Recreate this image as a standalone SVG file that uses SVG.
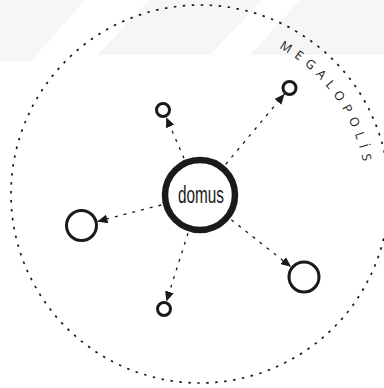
<svg xmlns="http://www.w3.org/2000/svg" width="384" height="388" viewBox="0 0 384 388">
  <style>
    .wm { fill: #f6f6f6; }
    .ring { fill: none; stroke: #1a1a1a; }
    .conn { fill: none; stroke: #1a1a1a; stroke-width: 1.3; stroke-dasharray: 3 6; marker-end: url(#arrow); }
    .label { font-family: "Open Sans", "Liberation Sans", sans-serif; fill: #1a1a1a; }
  </style>
  <defs>
    <marker id="arrow" markerUnits="userSpaceOnUse" viewBox="0 0 10 9" markerWidth="10" markerHeight="9" refX="10" refY="4.5" orient="auto">
      <path d="M0,0 L10,4.5 L0,9 z" fill="#1a1a1a"/>
    </marker>
    <path id="arcText" d="M275.4,46.1 A166,166 0 0 1 365.4,208.5"/>
  </defs>
  <rect width="384" height="388" fill="#ffffff"/>
  <g id="watermark">
    <polygon class="wm" points="0,0 85,0 30,62 0,62"/>
    <polygon class="wm" points="97,55 150,0 262,0 210,55"/>
    <polygon class="wm" points="250,55 300,0 384,0 384,55"/>
  </g>
  <g id="megalopolis">
    <circle cx="200" cy="194" r="189" fill="none" stroke="#1a1a1a" stroke-width="1.7" stroke-dasharray="2.5 6.5"/>
    <text class="label" font-size="12.5" letter-spacing="6"><textPath href="#arcText" startOffset="4">MEGALOPOLİS</textPath></text>
  </g>
  <g id="connectors">
    <line class="conn" x1="184.0" y1="158.3" x2="166.2" y2="117.3"/>
    <line class="conn" x1="225.7" y1="164.3" x2="284.4" y2="94.1"/>
    <line class="conn" x1="161.3" y1="205.0" x2="97.5" y2="221.4"/>
    <line class="conn" x1="231.4" y1="219.8" x2="291.0" y2="266.8"/>
    <line class="conn" x1="188.0" y1="233.2" x2="166.4" y2="301.4"/>
  </g>
  <g id="domus">
    <circle class="ring" cx="200" cy="195" r="35" stroke-width="6.5"/>
    <text x="201" y="203" text-anchor="middle" font-family="Liberation Sans, Arial, sans-serif" font-size="23" textLength="46" lengthAdjust="spacingAndGlyphs" fill="#1a1a1a">domus</text>
  </g>
  <g id="node-tl"><circle class="ring" cx="163" cy="110" r="6.5" stroke-width="3"/></g>
  <g id="node-tr"><circle class="ring" cx="289.5" cy="88" r="6.5" stroke-width="3"/></g>
  <g id="node-l"><circle class="ring" cx="81.5" cy="225.5" r="15" stroke-width="3"/></g>
  <g id="node-br"><circle class="ring" cx="304" cy="277" r="15" stroke-width="3"/></g>
  <g id="node-bl"><circle class="ring" cx="164" cy="309" r="6.5" stroke-width="3"/></g>
</svg>
